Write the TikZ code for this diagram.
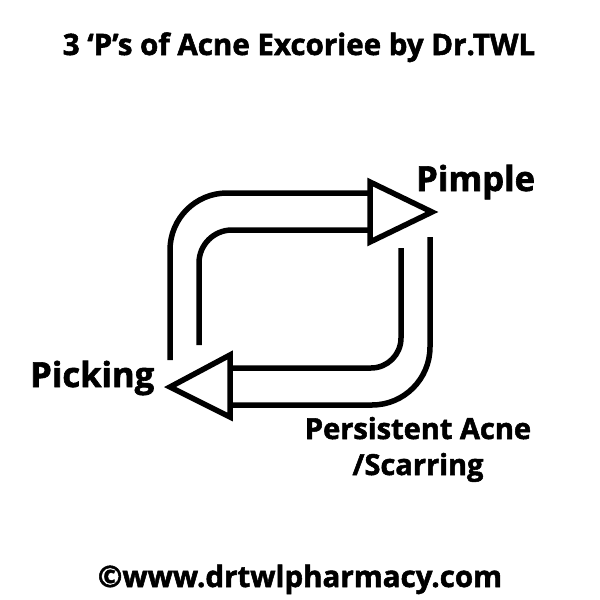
\documentclass[tikz,border=0pt]{standalone}
\usepackage{fontspec}
\setmainfont{Open Sans}[BoldFeatures={FakeBold=1.8}]
\usepackage{tikz}

\tikzset{
    loopline/.style={draw=black, line width=5.5pt},
    headtri/.style={draw=black, line width=5.5pt, line join=miter, fill=white},
    lbl/.style={font=\bfseries, inner sep=0pt}
}

\begin{document}
\begin{tikzpicture}[x=1pt, y=-1pt]
            \useasboundingbox[fill=white] (0,0) rectangle (600,600);

            % title and web address
            \node[lbl, font=\bfseries\fontsize{29.5}{34}\selectfont, anchor=base] (title) at (299,55) {3 ‘P’s of Acne Excoriee by Dr.TWL};
            \node[lbl, font=\bfseries\fontsize{29.5}{34}\selectfont, anchor=base] (web) at (300,587) {©www.drtwlpharmacy.com};

            % the three P's
            \begin{scope}[every node/.style={lbl, font=\bfseries\fontsize{34.5}{40}\selectfont}]
                \node[anchor=base west] (pimple) at (416,191) {Pimple};
                \node[anchor=base west] (picking) at (30,387) {Picking};
                \node[anchor=base, align=center, font=\bfseries\fontsize{29}{36}\selectfont] (persist) at (418,475) {Persistent Acne\\/Scarring};
            \end{scope}

            % the two loop arrows
            \begin{scope}[every path/.style={loopline}]
                \path (170,360) -- (170,250) arc[start angle=180, end angle=270, radius=57] -- (370,193);
                \path (199,345) -- (199,263) arc[start angle=180, end angle=270, radius=33] -- (370,230);
                \path (430,237) -- (430,347) arc[start angle=0, end angle=90, radius=58] -- (230,405);
                \path (401,248) -- (401,338) arc[start angle=0, end angle=90, radius=30] -- (230,368);
            \end{scope}

            % arrow heads
            \path[headtri] (370,182) -- (432,212) -- (370,242) -- cycle;
            \path[headtri] (230,355) -- (170,387) -- (230,417) -- cycle;
\end{tikzpicture}
\end{document}
